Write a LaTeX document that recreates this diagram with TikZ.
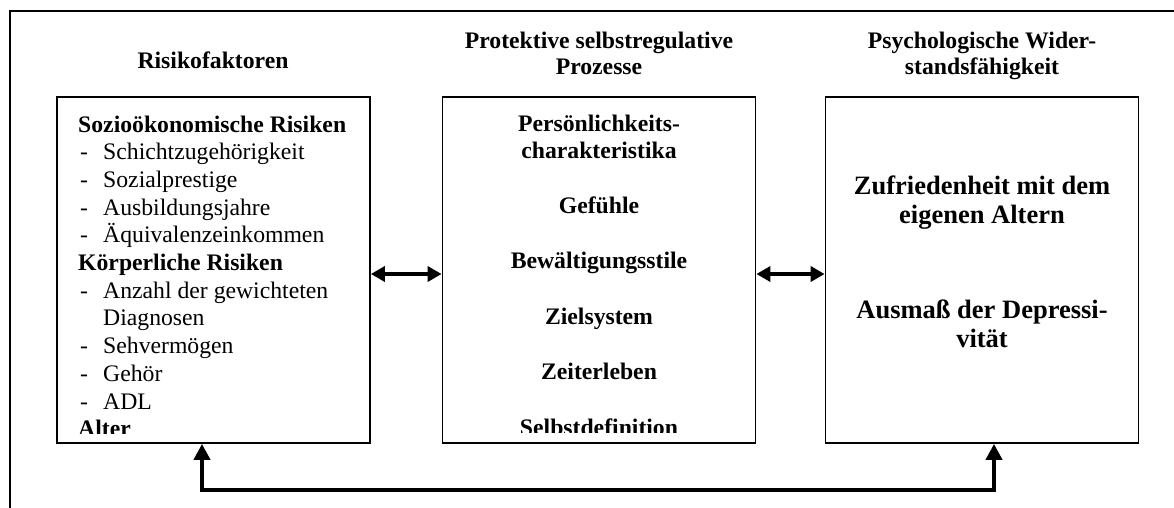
\documentclass[tikz,border=0pt]{standalone}
\usepackage{fontspec}
\setmainfont{Liberation Serif}
\usetikzlibrary{arrows.meta}

\tikzset{
  frameline/.style={line width=2.2pt, line cap=rect},
  panel/.style={draw, line width=1.8pt, minimum width=313pt, minimum height=346pt, inner sep=0pt},
  txt/.style={font=\fontsize{23.7}{27.5}\selectfont, inner sep=0pt, anchor=base west},
  btxt/.style={txt, font=\fontsize{23.7}{27.5}\selectfont\bfseries},
  ctxt/.style={btxt, anchor=base},
  bigtxt/.style={font=\fontsize{26.5}{30}\selectfont\bfseries, inner sep=0pt, anchor=base},
  dbl/.style={line width=4pt, {Triangle[length=14pt,width=15pt]}-{Triangle[length=14pt,width=15pt]}},
  loop/.style={line width=4.5pt, line join=miter, {Triangle[length=16pt,width=16pt]}-{Triangle[length=16pt,width=16pt]}}
}

\begin{document}
\begin{tikzpicture}[x=1pt,y=-1pt]
\useasboundingbox (0,0) rectangle (1174,507);

% open frame: left and top edges only
\draw[frameline] (10,507) -- (10,11) -- (1174,11);

% column headings
\node[ctxt] (h1) at (213,68) {Risikofaktoren};
\node[ctxt] (h2a) at (599,48) {Protektive selbstregulative};
\node[ctxt] (h2b) at (599,74) {Prozesse};
\node[ctxt] (h3a) at (982,48) {Psychologische Wider-};
\node[ctxt] (h3b) at (982,74) {standsfähigkeit};

% the three panels
\node[panel] (risk)  at (213.5,270) {};
\node[panel] (prot)  at (599,270) {};
\node[panel] (resil) at (982,270) {};

% risk factors
\begin{scope}
\clip (58,98) rectangle (369,433);
\node[btxt] (r1) at (78,132) {Sozioökonomische Risiken};
\node[txt] (r2d) at (80,159.7) {-}; \node[txt] (r2) at (103,159.7) {Schichtzugehörigkeit};
\node[txt] (r3d) at (80,187.4) {-}; \node[txt] (r3) at (103,187.4) {Sozialprestige};
\node[txt] (r4d) at (80,215.1) {-}; \node[txt] (r4) at (103,215.1) {Ausbildungsjahre};
\node[txt] (r5d) at (80,242.8) {-}; \node[txt] (r5) at (103,242.8) {Äquivalenzeinkommen};
\node[btxt] (r6) at (78,270.5) {Körperliche Risiken};
\node[txt] (r7d) at (80,298.2) {-}; \node[txt] (r7) at (103,298.2) {Anzahl der gewichteten};
\node[txt] (r8) at (103,325.9) {Diagnosen};
\node[txt] (r9d) at (80,353.6) {-}; \node[txt] (r9) at (103,353.6) {Sehvermögen};
\node[txt] (r10d) at (80,381.3) {-}; \node[txt] (r10) at (103,381.3) {Gehör};
\node[txt] (r11d) at (80,409) {-}; \node[txt] (r11) at (103,409) {ADL};
\node[btxt] (r12) at (78,436.7) {Alter};
\end{scope}

% protective processes
\begin{scope}
\clip (444,98) rectangle (754,432.5);
\node[ctxt] (p1) at (599,131) {Persönlichkeits-};
\node[ctxt] (p2) at (599,158) {charakteristika};
\node[ctxt] (p3) at (599,213) {Gefühle};
\node[ctxt] (p4) at (599,268.5) {Bewältigungsstile};
\node[ctxt] (p5) at (599,324) {Zielsystem};
\node[ctxt] (p6) at (599,379) {Zeiterleben};
\node[ctxt] (p7) at (599,435) {Selbstdefinition};
\end{scope}

% resilience outcomes
\node[bigtxt] (o1) at (982,194) {Zufriedenheit mit dem};
\node[bigtxt] (o2) at (982,223) {eigenen Altern};
\node[bigtxt] (o3) at (982,318) {Ausmaß der Depressi-};
\node[bigtxt] (o4) at (982,347) {vität};

% connectors
\coordinate (row) at (0,274);
\draw[dbl] (risk.east |- row) -- (prot.west |- row);
\draw[dbl] (prot.east |- row) -- (resil.west |- row);

\coordinate (lf) at (202,490);
\coordinate (rf) at (994,490);
\draw[loop] (risk.south -| lf) -- (lf) -- (rf) -- (resil.south -| rf);
\end{tikzpicture}
\end{document}
